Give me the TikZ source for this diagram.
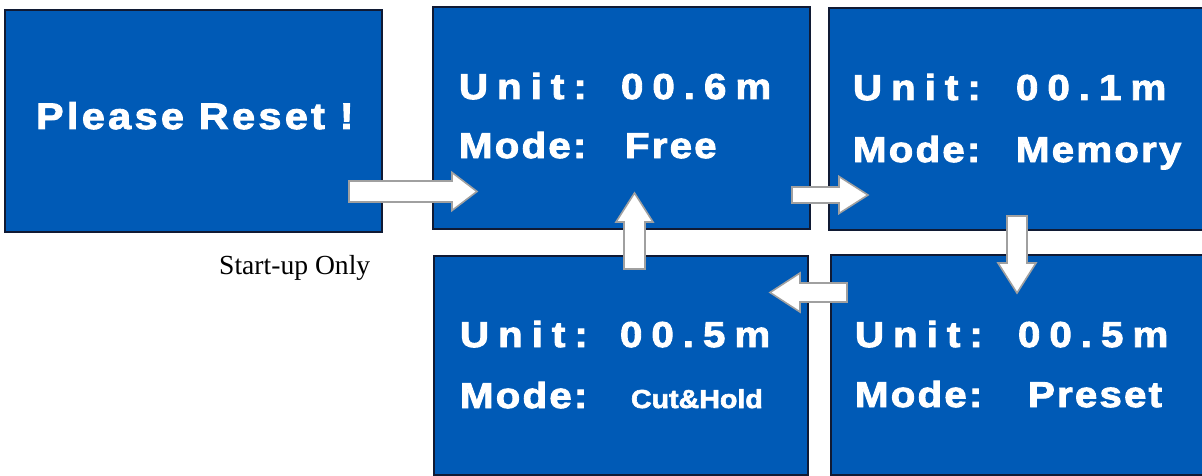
\documentclass[tikz,border=0pt]{standalone}
\usepackage{fontspec}
\newfontfamily\lcdwide{Liberation Sans}[LetterSpace=25, BoldFeatures={FakeBold=2.5, FakeStretch=1.12}]
\newfontfamily\lcdmid{Liberation Sans}[LetterSpace=6, BoldFeatures={FakeBold=2.5, FakeStretch=1.12}]
\newfontfamily\lcdnarrow{Liberation Sans}[LetterSpace=0, BoldFeatures={FakeBold=2.5, FakeStretch=1.1}]
\newfontfamily\lcdreset{Liberation Sans}[LetterSpace=9, BoldFeatures={FakeBold=2.5, FakeStretch=1.12}]
\newfontfamily\capfont{Liberation Serif}
\definecolor{lcdblue}{RGB}{0,90,182}
\definecolor{lcdedge}{RGB}{16,26,52}
\definecolor{arrowgray}{RGB}{160,160,160}
\tikzset{
  lcdbox/.style={rectangle, fill=lcdblue, draw=lcdedge, line width=1.5pt, inner sep=0pt, outer sep=0pt},
  lcdtext/.style={text=white, inner sep=0pt, outer sep=0pt, anchor=base west},
  unitfont/.style={lcdtext, font=\lcdwide\bfseries\fontsize{36}{40}\selectfont},
  modefont/.style={lcdtext, font=\lcdmid\bfseries\fontsize{36}{40}\selectfont},
  smallfont/.style={lcdtext, font=\lcdnarrow\bfseries\fontsize{26}{30}\selectfont},
  resetfont/.style={lcdtext, font=\lcdreset\bfseries\fontsize{37}{40}\selectfont},
  flowarrow/.style={fill=white, draw=arrowgray, line width=1.6pt, line join=miter}
}
% #1 tail coordinate, #2 angle, #3 length, #4 shaft half width, #5 head half width, #6 head length
\newcommand{\blockarrow}[6]{%
  \begin{scope}[shift={(#1)}, rotate=#2]
    \draw[flowarrow] (0,-#4) -- ({#3-#6},-#4) -- ({#3-#6},-#5) -- (#3,0)
      -- ({#3-#6},#5) -- ({#3-#6},#4) -- (0,#4) -- cycle;
  \end{scope}}
\begin{document}
\begin{tikzpicture}[x=1pt, y=-1pt]
\useasboundingbox (0,0) rectangle (1202,476);
\clip (0,0) rectangle (1202,476);
% screens
\node[lcdbox, minimum width=377pt, minimum height=222pt] (b1) at (193.5,121) {};
\node[lcdbox, minimum width=377pt, minimum height=222pt] (b2) at (621.5,118) {};
\node[lcdbox, minimum width=381pt, minimum height=222pt] (b3) at (1019.5,119) {};
\node[lcdbox, minimum width=374pt, minimum height=219pt] (b4) at (621,365.5) {};
\node[lcdbox, minimum width=379pt, minimum height=220pt] (b5) at (1020.5,365) {};
% texts
\node[resetfont] (t1) at (36,129) {Please Reset !};
\node[unitfont] (t2u) at (459,99) {Unit:};
\node[unitfont] (t2v) at (621,99) {00.6m};
\node[modefont] (t2m) at (459,158) {Mode:};
\node[modefont] (t2n) at (625,158) {Free};
\node[unitfont] (t3u) at (853,100) {Unit:};
\node[unitfont] (t3v) at (1016,100) {00.1m};
\node[modefont] (t3m) at (853,162) {Mode:};
\node[modefont] (t3n) at (1016,162) {Memory};
\node[unitfont] (t4u) at (460,347) {Unit:};
\node[unitfont] (t4v) at (620,347) {00.5m};
\node[modefont] (t4m) at (460,408) {Mode:};
\node[smallfont] (t4n) at (631,408) {Cut\&Hold};
\node[unitfont] (t5u) at (855,347) {Unit:};
\node[unitfont] (t5v) at (1018,347) {00.5m};
\node[modefont] (t5m) at (855,407) {Mode:};
\node[modefont] (t5n) at (1028,407) {Preset};
\node[inner sep=0pt, anchor=base west, font=\capfont\fontsize{27.6}{30}\selectfont] (cap) at (219,274) {Start-up Only};
% arrow tails
\coordinate (a1) at (349,191.5);
\coordinate (a2) at (792,195);
\coordinate (a3) at (1017,216);
\coordinate (a4) at (847,292.5);
\coordinate (a5) at (634.5,269);
\blockarrow{a1}{0}{128}{10.5}{19}{25}
\blockarrow{a2}{0}{76}{8}{18.5}{29}
\blockarrow{a3}{-90}{77}{10}{19}{30}
\blockarrow{a4}{180}{77}{9.5}{19.5}{30}
\blockarrow{a5}{90}{76}{10.5}{18.5}{29}
\end{tikzpicture}
\end{document}
